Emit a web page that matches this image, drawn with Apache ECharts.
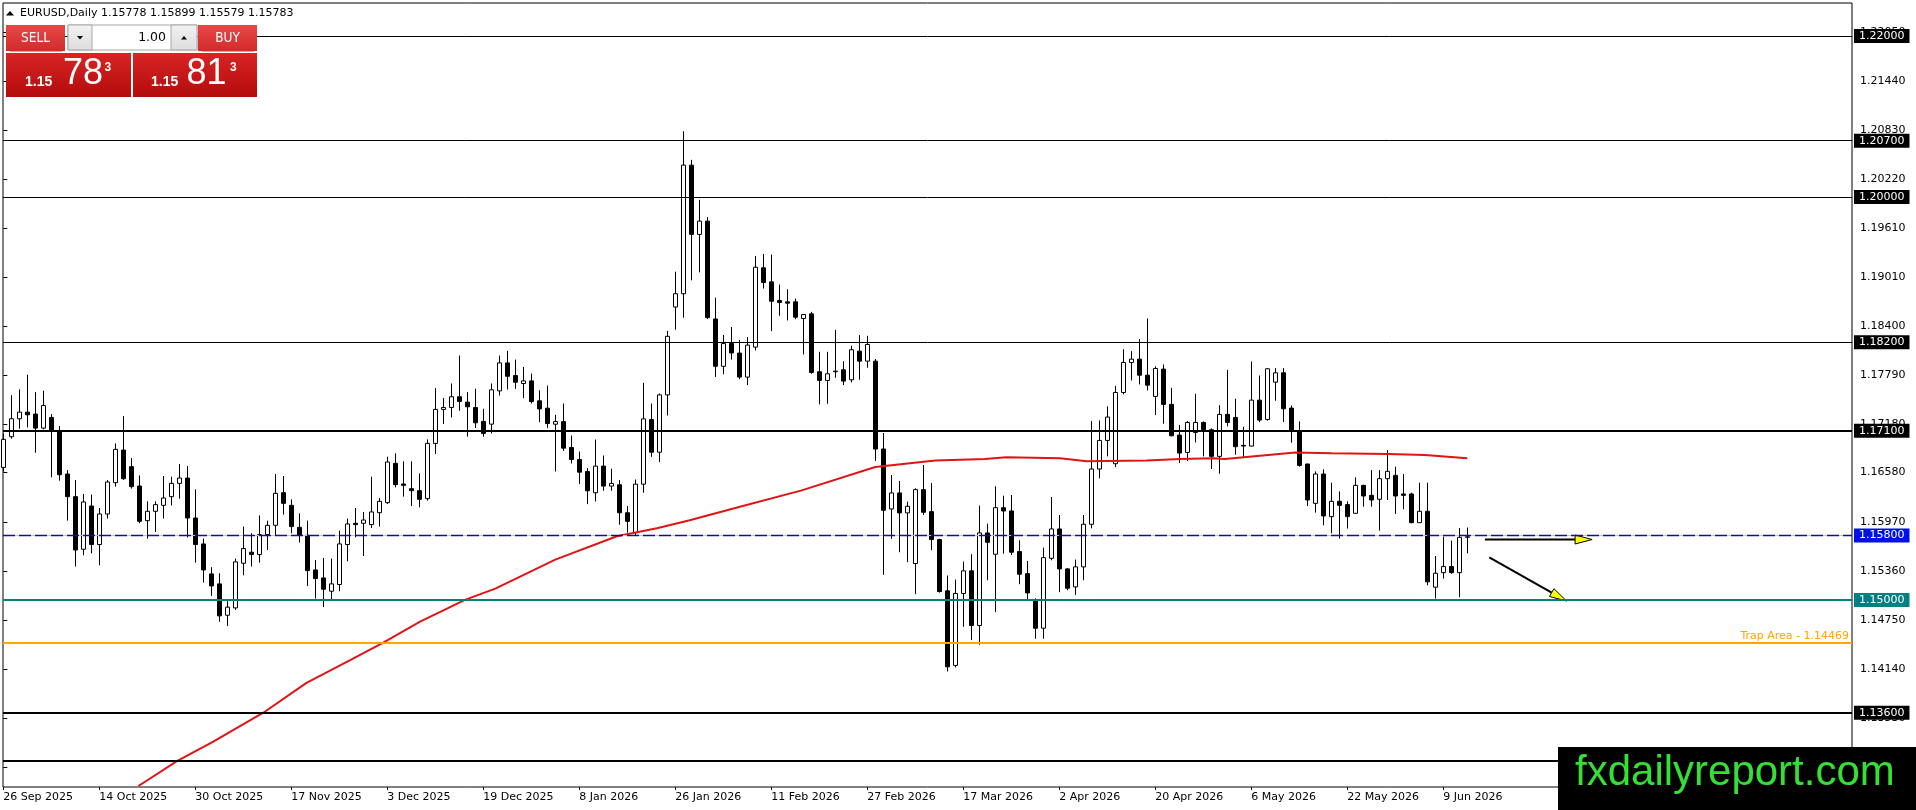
<!DOCTYPE html>
<html>
<head>
<meta charset="utf-8">
<script src="https://cdn.jsdelivr.net/npm/echarts@6/dist/echarts.min.js"></script>
<style>
html,body{margin:0;padding:0;background:#fff;}
#c{width:1916px;height:810px;}
</style>
</head>
<body>
<div id="c"></div>
<script>
// ---------------- DATA ----------------
const symbolName = 'EURUSD,Daily';

const xTickBars = [0, 12, 24, 36, 48, 60, 72, 84, 96, 108, 120, 132, 144, 156, 168, 180];
const xTickLabels = ['26 Sep 2025','14 Oct 2025','30 Oct 2025','17 Nov 2025','3 Dec 2025','19 Dec 2025',
  '8 Jan 2026','26 Jan 2026','11 Feb 2026','27 Feb 2026','17 Mar 2026','2 Apr 2026','20 Apr 2026',
  '6 May 2026','22 May 2026','9 Jun 2026'];

const yTickValues = [1.22050, 1.21440, 1.20830, 1.20220, 1.19610, 1.19010, 1.18400, 1.17790,
  1.17180, 1.16580, 1.15970, 1.15360, 1.14750, 1.14140, 1.13530, 1.12920];

const opens = [
1.16645,1.17026,1.17249,1.17331,1.17307,1.17133,1.17265,1.17100,1.16563,1.16282,
1.15629,1.16166,1.15687,1.16067,1.16455,1.16860,1.16654,1.16414,1.15984,1.16100,
1.16174,1.16282,1.16447,1.16513,1.16017,1.15695,1.15323,1.15199,1.14810,1.14901,
1.15455,1.15592,1.15563,1.15811,1.15926,1.16331,1.16174,1.15901,1.15802,1.15372,
1.15273,1.15108,1.15191,1.15687,1.15951,1.15951,1.15935,1.16083,1.16207,1.16695,
1.16439,1.16381,1.16356,1.16257,1.16943,1.17365,1.17389,1.17522,1.17455,1.17389,
1.17216,1.17182,1.17595,1.17942,1.17785,1.17686,1.17719,1.17471,1.17380,1.17181,
1.17214,1.16892,1.16743,1.16594,1.16330,1.16661,1.16413,1.16429,1.16082,1.15834,
1.16437,1.17239,1.16834,1.17545,1.18636,1.18801,1.20397,1.19537,1.19702,1.18487,
1.17900,1.18182,1.18064,1.17766,1.18138,1.19122,1.18948,1.18717,1.18700,1.18700,
1.18493,1.18551,1.17832,1.17725,1.17832,1.17857,1.17733,1.18088,1.17964,1.17964,
1.16873,1.16129,1.16328,1.16080,1.15452,1.16369,1.16096,1.15749,1.15113,1.14187,
1.15080,1.15361,1.14683,1.15831,1.15567,1.16145,1.16104,1.15600,1.15327,1.15005,
1.14649,1.15517,1.15881,1.15385,1.15162,1.15410,1.15939,1.16625,1.16980,1.16691,
1.17575,1.17947,1.17989,1.17790,1.17526,1.17865,1.17427,1.17046,1.16831,1.17079,
1.17203,1.17112,1.16782,1.17303,1.17265,1.16918,1.16910,1.17480,1.17240,1.17703,
1.17819,1.17381,1.17100,1.16687,1.16199,1.16563,1.16034,1.16224,1.16183,1.16075,
1.16422,1.16298,1.16249,1.16505,1.16546,1.16315,1.16315,1.15959,1.16100,1.15158,
1.15339,1.15414,1.15339,1.15778];

const highs = [
1.17067,1.17542,1.17613,1.17794,1.17579,1.17596,1.17307,1.17158,1.16612,1.16488,
1.16315,1.16307,1.16141,1.16488,1.16943,1.17282,1.16761,1.16546,1.16224,1.16224,
1.16538,1.16530,1.16687,1.16662,1.16373,1.15761,1.15406,1.15331,1.14984,1.15513,
1.15910,1.15827,1.16050,1.15984,1.16563,1.16538,1.16249,1.16075,1.15984,1.15496,
1.15521,1.15513,1.15860,1.16009,1.16141,1.16092,1.16530,1.16265,1.16778,1.16819,
1.16720,1.16720,1.16571,1.16993,1.17629,1.17505,1.17687,1.18034,1.17579,1.17621,
1.17373,1.17687,1.18033,1.18091,1.17983,1.17892,1.17810,1.17603,1.17661,1.17297,
1.17438,1.17041,1.16842,1.16636,1.16991,1.16793,1.16628,1.16487,1.16165,1.16495,
1.17694,1.17438,1.17562,1.18339,1.19074,1.20818,1.20463,1.19967,1.19752,1.18752,
1.18289,1.18388,1.18229,1.18262,1.19270,1.19295,1.19287,1.18915,1.18857,1.18741,
1.18543,1.18576,1.18080,1.18080,1.18353,1.17964,1.18155,1.18287,1.18279,1.17990,
1.17072,1.16551,1.16477,1.16220,1.16386,1.16675,1.16452,1.15760,1.15303,1.15253,
1.15476,1.15567,1.16171,1.15947,1.16410,1.16294,1.16302,1.15740,1.15484,1.15020,
1.15649,1.16278,1.16054,1.15393,1.15501,1.16054,1.17220,1.17228,1.17402,1.17658,
1.18113,1.18088,1.18237,1.18493,1.17898,1.17923,1.17633,1.17170,1.17220,1.17559,
1.17215,1.17129,1.17418,1.17856,1.17497,1.17150,1.17960,1.17786,1.17877,1.17877,
1.17877,1.17414,1.17216,1.16690,1.16596,1.16621,1.16455,1.16348,1.16224,1.16521,
1.16430,1.16612,1.16612,1.16860,1.16654,1.16563,1.16331,1.16455,1.16455,1.15546,
1.15786,1.15736,1.15893,1.15899];

const lows = [
1.16592,1.17001,1.17125,1.17141,1.16827,1.17117,1.16521,1.16480,1.15984,1.15414,
1.15554,1.15579,1.15430,1.16009,1.16406,1.16488,1.16381,1.15951,1.15761,1.15844,
1.16009,1.16174,1.16257,1.15777,1.15463,1.15215,1.15050,1.14728,1.14678,1.14876,
1.15306,1.15414,1.15463,1.15620,1.15802,1.16059,1.15827,1.15711,1.15174,1.15017,
1.14910,1.15009,1.15108,1.15480,1.15777,1.15546,1.15893,1.15910,1.16191,1.16397,
1.16282,1.16166,1.16149,1.16232,1.16811,1.17183,1.17265,1.17348,1.17026,1.17133,
1.17026,1.17067,1.17537,1.17611,1.17619,1.17504,1.17438,1.17206,1.17132,1.16594,
1.16851,1.16694,1.16437,1.16189,1.16222,1.16355,1.16355,1.15933,1.15834,1.15793,
1.16330,1.16776,1.16710,1.17289,1.18355,1.18504,1.18967,1.19066,1.18487,1.17768,
1.17801,1.17983,1.17741,1.17667,1.18097,1.18865,1.18336,1.18527,1.18469,1.18485,
1.18047,1.17807,1.17427,1.17435,1.17758,1.17667,1.17700,1.17733,1.17882,1.16725,
1.15311,1.15757,1.15592,1.15468,1.15071,1.16055,1.15617,1.15090,1.14112,1.14162,
1.14666,1.14501,1.14443,1.15244,1.14848,1.15575,1.15558,1.15195,1.15005,1.14517,
1.14517,1.15492,1.15096,1.15120,1.15062,1.15244,1.15889,1.16509,1.16782,1.16650,
1.17551,1.17724,1.17675,1.17600,1.17294,1.17187,1.17030,1.16699,1.16724,1.16955,
1.16782,1.16625,1.16567,1.17154,1.16802,1.16761,1.16905,1.17207,1.17224,1.17472,
1.17207,1.16951,1.16654,1.16166,1.16083,1.15926,1.15827,1.15761,1.15885,1.16070,
1.16158,1.16158,1.15860,1.16240,1.16067,1.16125,1.15951,1.15955,1.15182,1.15017,
1.15265,1.15323,1.15034,1.15579];

const closes = [
1.16993,1.17249,1.17331,1.17298,1.17133,1.17414,1.17108,1.16554,1.16282,1.15620,
1.16216,1.15687,1.16067,1.16464,1.16869,1.16505,1.16406,1.15976,1.16100,1.16183,
1.16265,1.16447,1.16513,1.16017,1.15687,1.15372,1.15174,1.14802,1.14910,1.15472,
1.15637,1.15563,1.15811,1.15926,1.16323,1.16199,1.15910,1.15802,1.15364,1.15265,
1.15133,1.15199,1.15695,1.15943,1.15935,1.15992,1.16092,1.16224,1.16712,1.16431,
1.16422,1.16356,1.16249,1.16943,1.17365,1.17389,1.17522,1.17464,1.17398,1.17199,
1.17067,1.17608,1.17942,1.17776,1.17702,1.17719,1.17462,1.17371,1.17190,1.17214,
1.16884,1.16743,1.16586,1.16355,1.16661,1.16413,1.16446,1.16082,1.15975,1.16437,
1.17247,1.16834,1.17545,1.18272,1.18801,1.20397,1.19537,1.19702,1.18504,1.17900,
1.18182,1.18066,1.17766,1.18163,1.19130,1.18940,1.18708,1.18692,1.18684,1.18510,
1.18543,1.17824,1.17725,1.17807,1.17840,1.17716,1.18105,1.17964,1.18171,1.16873,
1.16113,1.16328,1.16080,1.16162,1.16369,1.16088,1.15749,1.15104,1.14170,1.15080,
1.15361,1.14683,1.15832,1.15715,1.16145,1.16104,1.15592,1.15319,1.15087,1.14649,
1.15525,1.15881,1.15385,1.15145,1.15410,1.15939,1.16625,1.16980,1.17270,1.17575,
1.17947,1.17989,1.17790,1.17666,1.17873,1.17427,1.17038,1.16823,1.17203,1.17203,
1.17112,1.16782,1.17303,1.17203,1.16902,1.16910,1.17480,1.17232,1.17869,1.17819,
1.17373,1.17100,1.16670,1.16240,1.16563,1.16042,1.16224,1.16174,1.16034,1.16422,
1.16290,1.16240,1.16505,1.16596,1.16290,1.16298,1.15959,1.16100,1.15224,1.15331,
1.15414,1.15339,1.15777,1.15783];

// moving average (bar position, price)
const maBars   = [16.9, 21.7, 26.25, 32.5, 37.9, 43.3, 47.5, 52.1, 55.2, 57.7, 61.5, 69.0, 76.7, 81.7, 85.8, 91.5,
  99.8, 109.0, 116.5, 122.7, 125.4, 132.1, 135.4, 142.9, 147.1, 151.25, 152.7, 161.5, 166.05, 173.1, 177.7, 183.0];
const maValues = [1.1269, 1.1300, 1.1324, 1.1360, 1.1397, 1.1425, 1.1447, 1.1473, 1.1488, 1.1500, 1.1514, 1.1550,
  1.1579, 1.1589, 1.1599, 1.1614, 1.1636, 1.1665, 1.1673, 1.1675, 1.1677, 1.1676, 1.1672, 1.1673, 1.1675, 1.1676,
  1.1675, 1.1683, 1.1682, 1.1681, 1.1680, 1.1676];

// horizontal levels
const levelValues = [1.22000, 1.20700, 1.20000, 1.18200, 1.17100, 1.15800, 1.15000, 1.13600, 1.13000];
const trapLevel = 1.14469;
const trapText = 'Trap Area';

// arrows: [startBar, startPrice, endBar, endPrice]
const arrowStartBars = [185.2, 185.75];
const arrowStartPrices = [1.15750, 1.15529];
const arrowEndBars = [198.6, 195.4];
const arrowEndPrices = [1.15750, 1.14987];

const bidPrice = 1.15783;
const askPrice = 1.15813;
const lotText = '1.00';
const watermarkText = 'fxdailyreport.com';

// ---------------- STYLES ----------------
const levelStyles = [
  {color:'#000', width:1, box:'#000'},
  {color:'#000', width:1, box:'#000'},
  {color:'#000', width:1, box:'#000'},
  {color:'#000', width:1, box:'#000'},
  {color:'#000', width:2, box:'#000'},
  {color:'#10108c', width:1.3, box:'#0010e8', dash:[12,4], under:'#c4c4c4'},
  {color:'#008080', width:2, box:'#008080'},
  {color:'#000', width:2, box:'#000'},
  {color:'#000', width:2, box:'#000'}
];
const FONT = '"DejaVu Sans", Verdana, sans-serif';
const ARIAL = '"Liberation Sans", Arial, sans-serif';

// geometry of the plot (pixels)
const G = {left:3, top:3, right:64, bottom:23};
const plotW = 1916 - G.left - G.right;      // 1849
const pxPerBar = 8;
const firstBarX = 3.3;
const xMin = (G.left - firstBarX) / pxPerBar;
const xMax = xMin + plotW / pxPerBar;
const pxPerUnit = 8056;                      // pixels per 1.0 of price
const refPrice = 1.22, refY = 36;
const yMax = refPrice + (refY - G.top) / pxPerUnit;
const yMin = yMax - (810 - G.top - G.bottom) / pxPerUnit;

// ---------------- BUILD ----------------
const fmt5 = v => v.toFixed(5);
const candleData = opens.map((o, i) => [i, o, closes[i], lows[i], highs[i]]);
const maData = maBars.map((b, i) => [b, maValues[i]]);
const arrowData = arrowStartBars.map((b, i) => [b, arrowStartPrices[i], arrowEndBars[i], arrowEndPrices[i]]);

const markLineData = [];
levelValues.forEach((v, i) => {
  const s = levelStyles[i];
  if (s.under) {
    markLineData.push({yAxis: v, lineStyle: {color: s.under, width: 1, type: 'solid'}, label: {show: false}});
  }
  markLineData.push({
    yAxis: v,
    lineStyle: {color: s.color, width: s.width, type: s.dash || 'solid'},
    label: {show: true, position: 'end', distance: 2, formatter: fmt5(v),
      backgroundColor: s.box, color: '#fff', fontFamily: FONT, fontSize: 11, lineHeight: 12,
      padding: [1, 5, 1, 5]}
  });
});
markLineData.push({
  yAxis: trapLevel,
  lineStyle: {color: '#ffa500', width: 2, type: 'solid'},
  label: {show: true, position: 'insideEndTop', distance: [3, 1], formatter: trapText + ' - ' + fmt5(trapLevel),
    color: '#ffa500', fontFamily: FONT, fontSize: 11}
});

function renderArrow(params, api) {
  const p1 = api.coord([api.value(0), api.value(1)]);
  const p2 = api.coord([api.value(2), api.value(3)]);
  const dx = p2[0] - p1[0], dy = p2[1] - p1[1];
  const len = Math.sqrt(dx * dx + dy * dy) || 1;
  const ux = dx / len, uy = dy / len, nx = -uy, ny = ux;
  const L = 17, W = 4.5;
  const bx = p2[0] - ux * L, by = p2[1] - uy * L;
  return {
    type: 'group',
    children: [
      {type: 'line', shape: {x1: p1[0], y1: p1[1], x2: bx, y2: by}, style: {stroke: '#000', lineWidth: 2}},
      {type: 'polygon', shape: {points: [[p2[0], p2[1]], [bx + nx * W, by + ny * W], [bx - nx * W, by - ny * W]]},
        style: {fill: '#ffff00', stroke: '#000', lineWidth: 1}}
    ]
  };
}

const last = opens.length - 1;
const headerText = symbolName + ' ' + fmt5(opens[last]) + ' ' + fmt5(highs[last]) + ' ' +
  fmt5(lows[last]) + ' ' + fmt5(closes[last]);
const bidS = fmt5(bidPrice), askS = fmt5(askPrice);

const btnFill = {type: 'linear', x: 0, y: 0, x2: 0, y2: 1,
  colorStops: [{offset: 0, color: '#e64848'}, {offset: 1, color: '#d42a2a'}]};
const boxFill = {type: 'linear', x: 0, y: 0, x2: 0, y2: 1,
  colorStops: [{offset: 0, color: '#d82424'}, {offset: 1, color: '#b40c0c'}]};
const grayFill = {type: 'linear', x: 0, y: 0, x2: 0, y2: 1,
  colorStops: [{offset: 0, color: '#f2f2f2'}, {offset: 1, color: '#dcdcdc'}]};

function txt(x, y, text, font, fill, align, valign) {
  return {type: 'text', x: x, y: y, z: 101,
    style: {text: text, font: font, fill: fill, align: align || 'left', textAlign: align || 'left',
      verticalAlign: valign || 'middle', textVerticalAlign: valign || 'middle'}};
}

const graphics = [
  // header
  {type: 'polygon', z: 101, shape: {points: [[6, 15.5], [14, 15.5], [10, 11]]}, style: {fill: '#000'}},
  txt(20, 13.5, headerText, '11px ' + FONT, '#000'),
  // SELL button
  {type: 'rect', z: 100, shape: {x: 6, y: 25, width: 59, height: 26}, style: {fill: btnFill}},
  {type: 'line', z: 101, shape: {x1: 10, y1: 51.5, x2: 62, y2: 51.5}, style: {stroke: '#f29a9a', lineWidth: 1}},
  txt(35.5, 38.5, 'SELL', '13.5px "DejaVu Sans Condensed", ' + FONT, '#fff', 'center'),
  // lot field
  {type: 'rect', z: 100, shape: {x: 68, y: 25, width: 129, height: 25}, style: {fill: '#fff', stroke: '#a8a8a8', lineWidth: 1}},
  {type: 'rect', z: 100, shape: {x: 68, y: 25, width: 24, height: 25}, style: {fill: grayFill, stroke: '#a8a8a8', lineWidth: 1}},
  {type: 'polygon', z: 101, shape: {points: [[77, 36], [83, 36], [80, 39.5]]}, style: {fill: '#000'}},
  {type: 'rect', z: 100, shape: {x: 171, y: 25, width: 26, height: 25}, style: {fill: grayFill, stroke: '#a8a8a8', lineWidth: 1}},
  {type: 'polygon', z: 101, shape: {points: [[181, 39.5], [187, 39.5], [184, 36]]}, style: {fill: '#000'}},
  txt(166, 38, lotText, '12.5px ' + FONT, '#000', 'right'),
  // BUY button
  {type: 'rect', z: 100, shape: {x: 198, y: 25, width: 59, height: 26}, style: {fill: btnFill}},
  {type: 'line', z: 101, shape: {x1: 202, y1: 51.5, x2: 254, y2: 51.5}, style: {stroke: '#f29a9a', lineWidth: 1}},
  txt(227.5, 38.5, 'BUY', '13.5px "DejaVu Sans Condensed", ' + FONT, '#fff', 'center'),
  // price boxes
  {type: 'rect', z: 100, shape: {x: 6, y: 53, width: 125, height: 44}, style: {fill: boxFill}},
  {type: 'rect', z: 100, shape: {x: 133, y: 53, width: 124, height: 44}, style: {fill: boxFill}},
  txt(25, 82.5, bidS.slice(0, 4), 'bold 14px ' + ARIAL, '#fff'),
  txt(63, 74.5, bidS.slice(4, 6), '36px ' + ARIAL, '#fff'),
  txt(104.5, 67.5, bidS.slice(6), 'bold 12px ' + ARIAL, '#fff'),
  txt(151, 82.5, askS.slice(0, 4), 'bold 14px ' + ARIAL, '#fff'),
  txt(186.5, 74.5, askS.slice(4, 6), '36px ' + ARIAL, '#fff'),
  txt(230, 67.5, askS.slice(6), 'bold 12px ' + ARIAL, '#fff'),
  // watermark
  {type: 'rect', z: 110, shape: {x: 1558, y: 747, width: 358, height: 63}, style: {fill: '#000'}},
  {type: 'text', x: 1575, y: 773, z: 111, style: {text: watermarkText, font: '42px ' + ARIAL, fill: '#33e033',
    align: 'left', textAlign: 'left', verticalAlign: 'middle', textVerticalAlign: 'middle'}}
];

const chart = echarts.init(document.getElementById('c'), null, {renderer: 'canvas', width: 1916, height: 810});
chart.setOption({
  animation: false,
  backgroundColor: '#fff',
  textStyle: {fontFamily: FONT},
  grid: {left: G.left, top: G.top, right: G.right, bottom: G.bottom, show: true,
    borderColor: '#000', borderWidth: 1, backgroundColor: 'transparent', containLabel: false},
  xAxis: {
    type: 'value', min: xMin, max: xMax,
    axisLine: {show: false},
    splitLine: {show: false},
    axisTick: {show: true, length: 3, inside: false, lineStyle: {color: '#000', width: 1}, customValues: xTickBars},
    axisLabel: {show: true, customValues: xTickBars, align: 'left', margin: 5, color: '#000',
      fontFamily: FONT, fontSize: 11,
      formatter: v => xTickLabels[xTickBars.indexOf(Math.round(v))] || ''}
  },
  yAxis: {
    type: 'value', position: 'right', min: yMin, max: yMax, scale: true,
    axisLine: {show: false},
    splitLine: {show: false},
    axisTick: {show: true, length: 4, inside: false, lineStyle: {color: '#000', width: 1}, customValues: yTickValues},
    axisLabel: {show: true, customValues: yTickValues, margin: 8, color: '#000', fontFamily: FONT, fontSize: 11,
      hideOverlap: false, formatter: v => fmt5(v)}
  },
  series: [
    {
      // carrier for horizontal level lines, drawn beneath the candles
      type: 'line', name: 'levels', data: [], z: 1, silent: true, symbol: 'none',
      markLine: {silent: true, precision: 5, symbol: ['none', 'none'], animation: false, data: markLineData}
    },
    {
      type: 'candlestick', name: 'EURUSD', data: candleData, barWidth: 4, z: 2, silent: true,
      itemStyle: {color: '#fff', color0: '#000', borderColor: '#000', borderColor0: '#000', borderWidth: 1}
    },
    {
      type: 'line', name: 'MA', data: maData, showSymbol: false, symbol: 'none', z: 3, silent: true,
      lineStyle: {color: '#e01414', width: 2}
    },
    {
      type: 'custom', name: 'arrows', data: arrowData, encode: {x: [0, 2], y: [1, 3]},
      renderItem: renderArrow, z: 4, silent: true, clip: false
    }
  ],
  graphic: {elements: graphics}
});
</script>
</body>
</html>
